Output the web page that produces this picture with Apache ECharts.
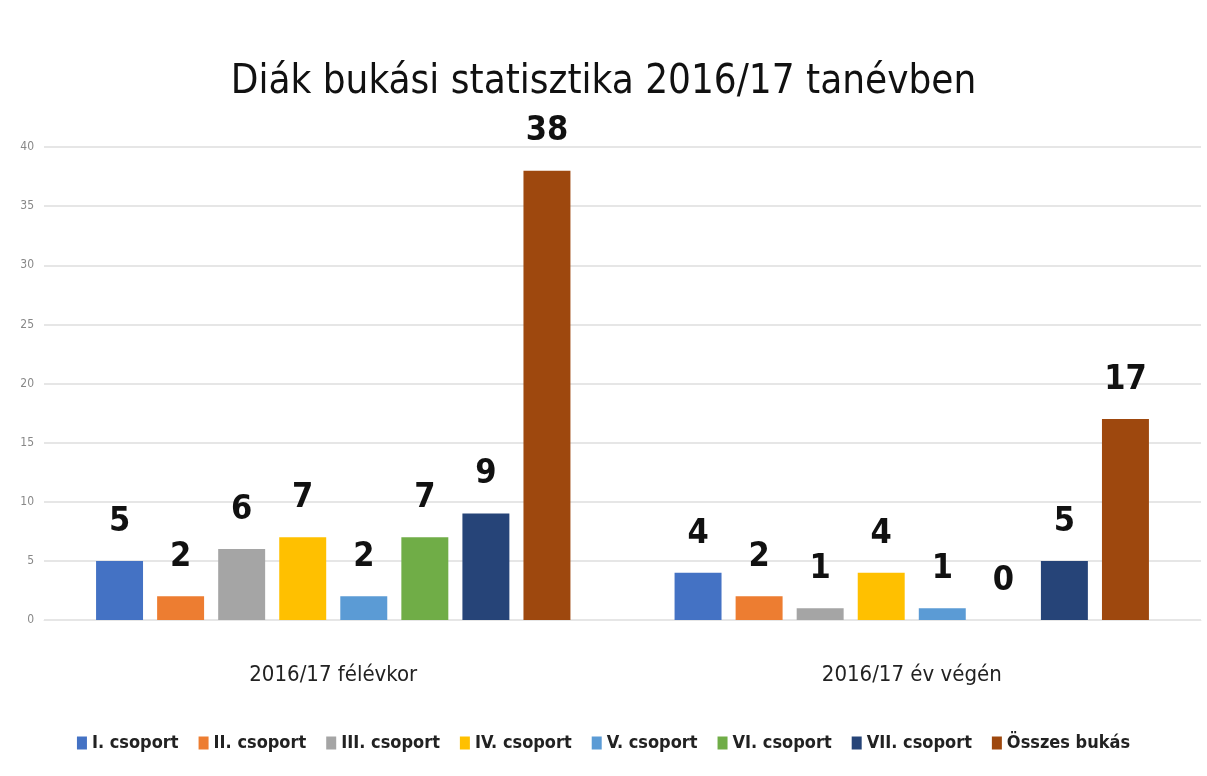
<!DOCTYPE html>
<html>
<head>
<meta charset="utf-8">
<script src="https://cdn.jsdelivr.net/npm/echarts@6/dist/echarts.min.js"></script>
<style>
  html, body { margin: 0; padding: 0; background: #fff; }
  #chart { width: 1207px; height: 776px; }
</style>
</head>
<body>
<div id="chart"></div>
<script>
// kategóriák és csoportok
const categories = ["2016/17 félévkor", "2016/17 év végén"];
const groups = ["I. csoport", "II. csoport", "III. csoport", "IV. csoport", "V. csoport", "VI. csoport", "VII. csoport", "Összes bukás"];
const colors = ["#4472C4", "#ED7D31", "#A5A5A5", "#FFC000", "#5B9BD5", "#70AD47", "#264478", "#9E480E"];
const felevkor = [5, 2, 6, 7, 2, 7, 9, 38];
const evVegen = [4, 2, 1, 4, 1, 0, 5, 17];

const font = "'Liberation Sans Narrow', 'DejaVu Sans Condensed', sans-serif";

let chart = echarts.init(document.getElementById("chart"));

let series = groups.map((name, i) => {
  return {
    name: name,
    type: "bar",
    data: [felevkor[i], evVegen[i]],
    itemStyle: { color: colors[i] },
    barGap: "30%",
    barCategoryGap: "18%",
    label: {
      show: true,
      position: "top",
      distance: 22,
      color: "#111",
      fontSize: 34,
      fontWeight: "bold",
      fontFamily: font
    }
  };
});

chart.setOption({
  animation: false,
  title: {
    text: "Diák bukási statisztika 2016/17 tanévben",
    left: "center",
    top: 58,
    textStyle: {
      fontFamily: font,
      fontSize: 40,
      fontWeight: "normal",
      color: "#111"
    }
  },
  legend: {
    data: groups,
    bottom: 19,
    left: "center",
    itemWidth: 10,
    itemHeight: 13,
    itemGap: 20,
    icon: "rect",
    textStyle: {
      fontFamily: font,
      fontSize: 18,
      fontWeight: "bold",
      color: "#222"
    }
  },
  grid: {
    left: 44,
    right: 6,
    top: 147,
    bottom: 156
  },
  xAxis: {
    type: "category",
    data: categories,
    axisLine: { show: true, lineStyle: { color: "#e6e6e6" } },
    axisTick: { show: false },
    axisLabel: {
      margin: 44,
      fontFamily: font,
      fontSize: 22,
      color: "#222"
    }
  },
  yAxis: {
    type: "value",
    min: 0,
    max: 40,
    interval: 5,
    axisLine: { show: false },
    axisTick: { show: false },
    splitLine: { lineStyle: { color: "#e6e6e6", width: 2 } },
    axisLabel: {
      margin: 10,
      fontFamily: font,
      fontSize: 12,
      color: "#888"
    }
  },
  series: series
});
</script>
</body>
</html>
